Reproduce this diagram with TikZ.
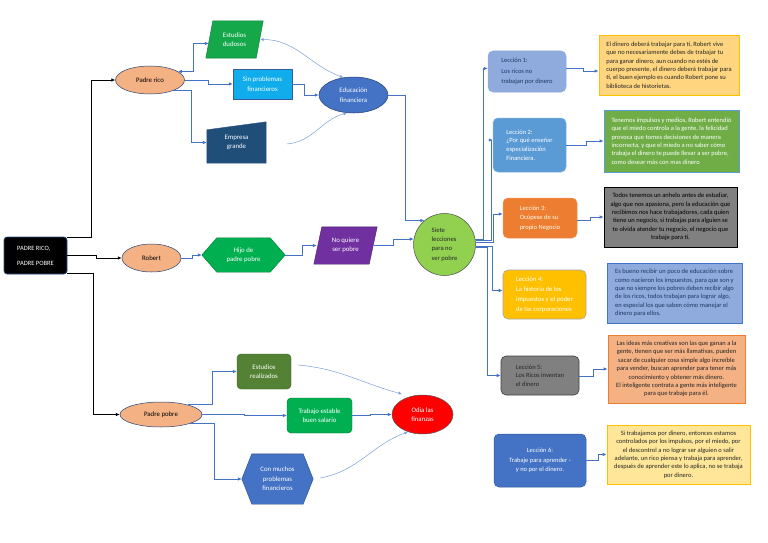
\documentclass[tikz,border=0pt]{standalone}
\usepackage{fontspec}
\setmainfont{Carlito}
\usetikzlibrary{arrows.meta,backgrounds,shapes.geometric}
\definecolor{cblue}{HTML}{4472C4}
\definecolor{corange}{HTML}{F4B183}
\definecolor{cgreen}{HTML}{00B050}
\definecolor{cgreenb}{HTML}{14A84B}
\definecolor{clblue}{HTML}{10ACEC}
\definecolor{cnavy}{HTML}{1F4E79}
\definecolor{cpurple}{HTML}{7030A0}
\definecolor{clgreen}{HTML}{92D050}
\definecolor{cdgreen}{HTML}{548235}
\definecolor{cred}{HTML}{FF0000}
\definecolor{clav}{HTML}{8FAADC}
\definecolor{cmid}{HTML}{5B9BD5}
\definecolor{cor}{HTML}{ED7D31}
\definecolor{cgold}{HTML}{FFC000}
\definecolor{cgray}{HTML}{808080}
\definecolor{cdone}{HTML}{FFD580}
\definecolor{cgrn}{HTML}{70AD47}
\definecolor{csal}{HTML}{F4B183}
\definecolor{cyel}{HTML}{FFE699}
\definecolor{cnavytext}{HTML}{1F3864}
\definecolor{ccurve}{HTML}{7C9FD8}
\definecolor{cdark}{HTML}{262626}
\tikzset{
  conn/.style={draw=cblue, line width=0.8pt, ->},
  rootconn/.style={draw=black, line width=0.9pt, ->},
  curve/.style={draw=ccurve, line width=0.5pt},
  lbl/.style={font=\fontsize{6.8}{9.4}\selectfont, align=center, inner sep=0pt},
  oval/.style={ellipse, draw=cblue!60!black, line width=0.5pt, lbl},
  plain/.style={rectangle, lbl, text=white},
  lesson/.style={rectangle, rounded corners=5pt, font=\fontsize{6.5}{9.5}\selectfont, align=left, inner sep=0pt},
  desc/.style={rectangle, line width=0.8pt, font=\fontsize{6.5}{8.4}\selectfont, inner sep=0pt}
}
\begin{document}
\begin{tikzpicture}[x=1pt,y=-1pt,>={Latex[length=4pt,width=3.6pt]}]
\useasboundingbox (0,0) rectangle (768,543);
% root
\node[rectangle, rounded corners=3pt, fill=black, draw=cblue!70!black, line width=0.6pt,
  minimum width=63pt, minimum height=37pt, inner sep=0pt, text=white, align=left,
  font=\fontsize{6.5}{15}\selectfont] (root) at (35.5,255.5) {PADRE RICO,\\PADRE POBRE};
% padre rico branch
\node[oval, fill=corange, minimum width=69pt, minimum height=28pt] (pr) at (150,80) {Padre rico};
\node[plain, minimum width=57pt, minimum height=37pt] (dud) at (234.5,39.5) {Estudios\\dudosos};
\node[plain, fill=clblue, draw=cblue!80!black, line width=0.4pt, minimum width=59pt, minimum height=30pt] (spf) at (262.5,84) {Sin problemas\\financieros};
\node[plain, minimum width=59pt, minimum height=41pt] (eg) at (236.5,142.5) {\raisebox{-4pt}{\parbox{40pt}{\centering Empresa\\grande}}};
\node[oval, fill=cblue, text=white, minimum width=69pt, minimum height=36pt] (ef) at (353.5,95) {Educación\\financiera};
% robert branch
\node[oval, fill=corange, minimum width=59pt, minimum height=28pt] (rob) at (151.5,258) {Robert};
\node[plain, minimum width=83pt, minimum height=34pt] (hijo) at (243.5,255) {Hijo de\\padre pobre};
\node[plain, minimum width=63pt, minimum height=37pt] (noq) at (345.5,245.5) {No quiere\\ser pobre};
\node[circle, fill=clgreen, draw=gray!60!black, line width=0.5pt, minimum size=62pt, inner sep=0pt,
  align=left, font=\fontsize{6.6}{9.3}\selectfont, text=cdark] (siete) at (444.5,244.5) {Siete\\lecciones\\para no\\ser pobre};
% padre pobre branch
\node[oval, fill=corange, minimum width=82pt, minimum height=25pt] (pp) at (161,414.5) {Padre pobre};
\node[plain, rounded corners=4pt, fill=cdgreen, draw=cdgreen!70!black, line width=0.4pt, minimum width=54pt, minimum height=35pt] (er) at (264,371.5) {Estudios\\realizados};
\node[plain, rounded corners=4pt, fill=cgreen, draw=cgreen!60!black, line width=0.4pt, minimum width=65pt, minimum height=35pt] (ter) at (319.5,415.5) {Trabajo estable\\buen salario};
\node[plain, minimum width=71pt, minimum height=50pt] (cmp) at (277.5,479) {Con muchos\\problemas\\financieros};
\node[oval, fill=cred, draw=gray!70!black, text=white, minimum width=61pt, minimum height=39pt] (odia) at (422.5,414.5) {Odia las\\finanzas};
% lessons
\node[lesson, fill=clav, draw=cblue!60, line width=0.5pt, text=cnavytext, minimum width=78pt, minimum height=41pt,
  font=\fontsize{6.5}{10.5}\selectfont] (L1) at (527,71.5) {Lección 1:\\Los ricos no\\trabajan por dinero};
\node[lesson, fill=cmid, draw=cmid!80, line width=0.5pt, text=white, minimum width=73pt, minimum height=54pt,
  font=\fontsize{6.5}{8.6}\selectfont] (L2) at (529.5,145) {Lección 2:\\¿Por qué enseñar\\especialización\\Financiera.};
\node[lesson, fill=cor, draw=cor!80, line width=0.5pt, text=white!92!yellow, minimum width=74pt, minimum height=40pt] (L3) at (540,218) {Lección 3:\\Ocúpese de su\\propio Negocio};
\node[lesson, fill=cgold, draw=gray!70, line width=0.6pt, text=white, minimum width=83pt, minimum height=49pt,
  font=\fontsize{6.7}{10}\selectfont] (L4) at (544.5,294.5) {Lección 4:\\La historia de los\\impuestos y el poder\\de las corporaciones};
\node[lesson, fill=cgray, draw=gray!50!black, line width=0.6pt, text=cdark, minimum width=78pt, minimum height=39pt,
  font=\fontsize{6.5}{8.5}\selectfont] (L5) at (540,375.5) {Lección 5:\\Los Ricos inventan\\el dinero};
\node[lesson, fill=cblue, draw=cblue!80!black, line width=0.5pt, text=white, align=center, minimum width=92pt, minimum height=53pt] (L6) at (540,460.5) {Lección 6:\\Trabaje para aprender -\\y no por el dinero.};
% descriptions
\node[desc, fill=cdone, draw=cgold, text=cdark, align=left, minimum width=140pt, minimum height=60pt] (D1) at (669,65)
 {El dinero deberá trabajar para ti, Robert vive\\que no necesariamente debes de trabajar tu\\para ganar dinero, aun cuando no estés de\\cuerpo presente, el dinero deberá trabajar para\\ti, el buen ejemplo es cuando Robert pone su\\biblioteca de historietas.};
\node[desc, fill=cgrn, draw=cmid, text=white, align=left, minimum width=135pt, minimum height=62pt] (D2) at (671.5,141)
 {Tenemos impulsos y medios, Robert entendió\\que el miedo controla a la gente, la felicidad\\provoca que tomes decisiones de manera\\incorrecta, y que el miedo a no saber cómo\\trabaja el dinero te puede llevar a ser pobre,\\como desear más con mas dinero};
\node[desc, fill=cgray, draw=black, text=black, align=center, minimum width=133pt, minimum height=60pt] (D3) at (670.5,217)
 {Todos tenemos un anhelo antes de estudiar,\\algo que nos apasiona, pero la educación que\\recibimos nos hace trabajadores, cada quien\\tiene un negocio, si trabajas para alguien se\\te olvida atender tu negocio, el negocio que\\trabaje para ti.};
\node[desc, fill=clav, draw=cblue, text=cnavytext, align=left, minimum width=135pt, minimum height=60pt] (D4) at (674.5,293)
 {Es bueno recibir un poco de educación sobre\\como nacieron los impuestos, para que son y\\que no siempre los pobres deben recibir algo\\de los ricos, todos trabajan para lograr algo,\\en especial los que saben cómo manejar el\\dinero para ellos.};
\node[desc, fill=csal, draw=cor, text=cdark, align=center, minimum width=137pt, minimum height=68pt] (D5) at (676.5,369)
 {Las ideas más creativas son las que ganan a la\\gente, tienen que ser más llamativas, pueden\\sacar de cualquier cosa simple algo increíble\\para vender, buscan aprender para tener más\\conocimiento y obtener más dinero.\\El inteligente contrata a gente más inteligente\\para que trabaje para él.};
\node[desc, fill=cyel, draw=cgold, text=cdark, align=center, minimum width=143pt, minimum height=59pt] (D6) at (678.5,454.5)
 {Si trabajamos por dinero, entonces estamos\\controlados por los impulsos, por el miedo, por\\el descontrol a no lograr ser alguien o salir\\adelante, un rico piensa y trabaja para aprender,\\después de aprender este lo aplica, no se trabaja\\por dinero.};
% root connectors
\draw[rootconn] ([yshift=-1pt]root.north east) -- ++(24,0) |- (pr.west);
\draw[rootconn] (root.east) -- ++(29,0) |- (rob.west);
\draw[rootconn] ([yshift=1pt]root.south east) -- ++(26,0) |- (pp.west);
% padre rico connectors
\draw[conn,<->] (pr.17) -- ++(16,0) |- ([xshift=3pt,yshift=-4pt]dud.west);
\draw[conn] (pr.east) -- ++(24,0) |- (spf.west);
\draw[conn] (pr.-25) -- ++(18,0) |- (eg.west);
\draw[conn] (spf.east) -- ++(12,0) |- (ef.west);
\draw[conn] (ef.east) -- ++(17,0) |- (siete.130);
% curves
\coordinate (egc) at (287,144);
\draw[curve,<->,>={Latex[length=3.5pt,width=3pt]}] ([xshift=-3pt]dud.east) to[out=0,in=160] (ef.120);
\draw[curve,->,>={Latex[length=3.5pt,width=3pt]}] (egc) to[out=5,in=195] (ef.-110);
% robert connectors
\draw[conn] (rob.east) -- ++(11,0) |- (hijo.west);
\draw[conn] (hijo.east) -- ++(17,0) |- ([xshift=3pt]noq.west);
\draw[conn] ([xshift=-3pt]noq.east) -- ++(19,0) |- (siete.170);
% siete -> lessons
\draw[conn] (siete.10) -- ++(8,0) |- ([yshift=3pt]L1.west);
\draw[conn] (siete.7) -- ++(16,0) |- ([yshift=5pt]L2.west);
\draw[conn] (siete.4) -- ++(18,0) |- ([yshift=4pt]L3.west);
\draw[conn] (siete.-3) -- ++(17,0) |- ([yshift=4pt]L4.west);
\draw[conn] (siete.-6) -- ++(12,0) |- (L5.west);
% lessons -> descriptions
\draw[conn] ([yshift=3.5pt]L1.east) -- ++(17,0) |- ([yshift=-6pt]D1.west);
\draw[conn] (L2.east) -- ++(20,0) |- (D2.west);
\draw[conn] ([yshift=-2.5pt]L3.east) -- ++(13,0) |- (D3.west);
\draw[conn] ([yshift=-1pt]L5.east) -- ++(14,0) |- (D5.west);
\draw[conn] (L6.east) -- ++(12,0) |- (D6.west);
% padre pobre connectors
\draw[conn] (pp.20) -- ++(25,0) |- (er.west);
\draw[conn] (pp.east) -- ++(42,0) |- (ter.west);
\draw[conn] (pp.-18) -- ++(25,0) |- (cmp.west);
\draw[conn] (ter.east) -- ++(18,0) |- (odia.west);
\coordinate (erc) at (298,365);
\coordinate (odin) at (402,394);
\coordinate (cmc) at (320,478);
\draw[curve,->,>={Latex[length=3.5pt,width=3pt]}] (erc) to[out=-5,in=165] (odin);
\draw[curve,->,>={Latex[length=3.5pt,width=3pt]}] (cmc) to[out=10,in=200] (odia.-130);
% background shapes
\begin{scope}[on background layer]
\fill[white] (0,0) rectangle (768,543);
\filldraw[fill=cgreenb, draw=cgreenb!70!black, line width=0.4pt] (dud.south west) -- ([xshift=-7pt]dud.south east) -- (dud.north east) -- ([xshift=7pt]dud.north west) -- cycle;
\filldraw[fill=cnavy, draw=cblue!70!black, line width=0.4pt] (eg.south west) -- (eg.south east) -- (eg.north east) -- ([yshift=-8pt]eg.north west) -- cycle;
\filldraw[fill=cgreen, draw=cgreen!70!black, line width=0.4pt] (hijo.west) -- ([xshift=15pt]hijo.north west) -- ([xshift=-15pt]hijo.north east) -- (hijo.east) -- ([xshift=-15pt]hijo.south east) -- ([xshift=15pt]hijo.south west) -- cycle;
\filldraw[fill=cpurple, draw=cpurple!70!black, line width=0.4pt] (noq.south west) -- ([xshift=-8pt]noq.south east) -- (noq.north east) -- ([xshift=8pt]noq.north west) -- cycle;
\filldraw[fill=cblue, draw=cblue!70!black, line width=0.4pt] (cmp.west) -- ([xshift=10pt]cmp.north west) -- ([xshift=-10pt]cmp.north east) -- (cmp.east) -- ([xshift=-10pt]cmp.south east) -- ([xshift=10pt]cmp.south west) -- cycle;
\end{scope}
\end{tikzpicture}
\end{document}
